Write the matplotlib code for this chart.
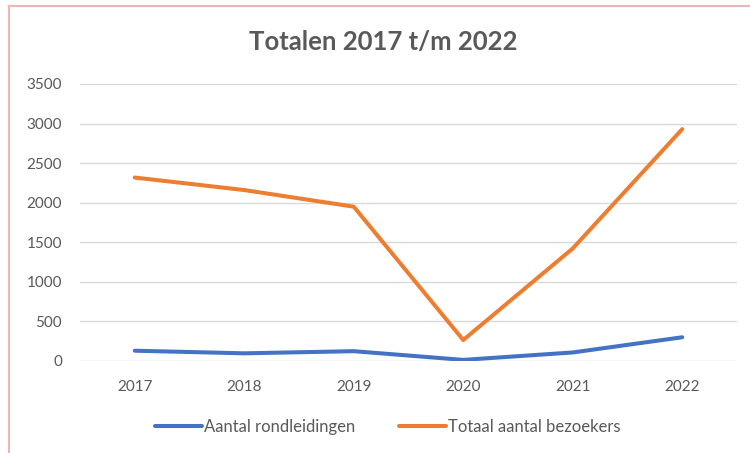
import matplotlib.pyplot as plt
from matplotlib.patches import Rectangle

years = ["2017", "2018", "2019", "2020", "2021", "2022"]
rondleidingen = [130, 97, 124, 14, 108, 300]
bezoekers = [2318, 2160, 1950, 265, 1422, 2930]

plt.rcParams['font.family'] = ['Lato', 'DejaVu Sans']

fig = plt.figure(figsize=(7.5, 4.53), dpi=100)
ax = fig.add_axes([80 / 750, 1 - 361 / 453, (737 - 80) / 750, (361 - 84) / 453])

x = range(len(years))
ax.plot(x, rondleidingen, color='#4472C4', linewidth=2.9, solid_capstyle='round',
        label='Aantal rondleidingen')
ax.plot(x, bezoekers, color='#ED7D31', linewidth=2.9, solid_capstyle='round',
        label='Totaal aantal bezoekers')

ax.set_ylim(0, 3500)
ax.set_yticks(range(0, 3501, 500))
ax.set_xlim(-0.5, len(years) - 0.5)
ax.set_xticks(list(x))
ax.set_xticklabels(years)
ax.grid(axis='y', color='#D9D9D9', linewidth=1.0)
ax.set_axisbelow(True)
for s in ax.spines.values():
    s.set_visible(False)
ax.tick_params(length=0, colors='#595959', labelsize=11)
ax.tick_params(axis='x', pad=14)
ax.tick_params(axis='y', pad=13)

fig.text(383 / 750, 1 - 42 / 453, 'Totalen 2017 t/m 2022', ha='center', va='center',
         fontsize=18.5, fontweight='bold', color='#595959')

leg = fig.legend(loc='center', bbox_to_anchor=(388 / 750, 1 - 427 / 453), ncol=2,
                 frameon=False, fontsize=12, handlelength=2.8, columnspacing=2.6,
                 handletextpad=0.15)
for t in leg.get_texts():
    t.set_color('#595959')

# pink frame of the pasted picture
fig.patches.append(Rectangle((9 / 750, -0.1), 1.0, 1 - 6.5 / 453 + 0.1,
                             transform=fig.transFigure, fill=False,
                             edgecolor='#E6B8B7', linewidth=1.6))

fig.savefig('out.png', dpi=100)
